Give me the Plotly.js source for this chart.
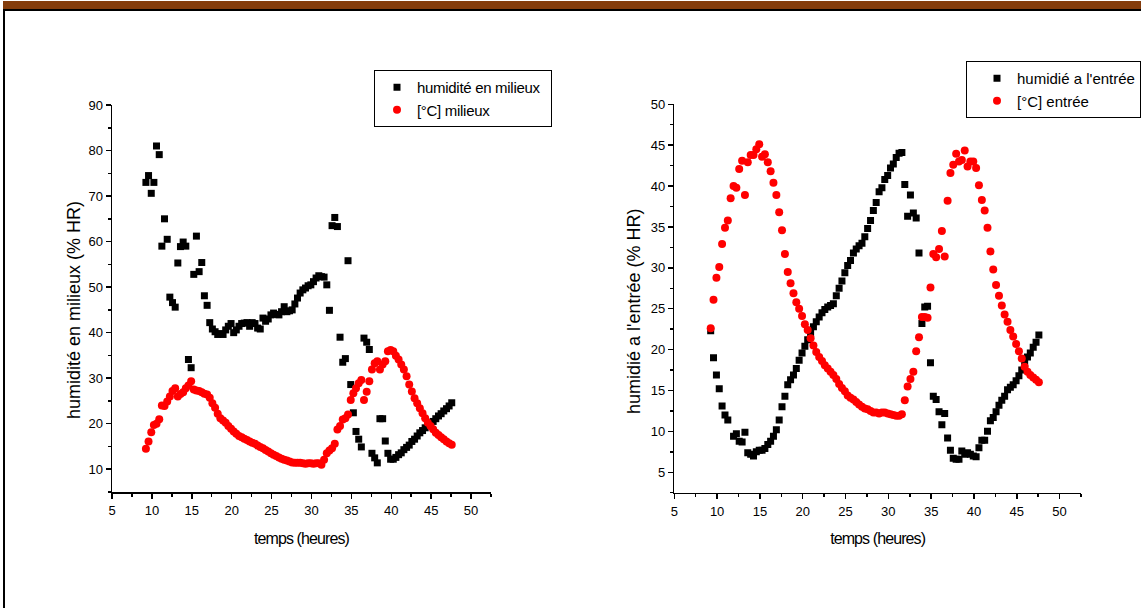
<!DOCTYPE html>
<html>
<head>
<meta charset="utf-8">
<script src="https://cdn.plot.ly/plotly-3.0.1.min.js"></script>
<style>
  html, body { margin: 0; padding: 0; background: #fff; }
  #page { position: relative; width: 1141px; height: 608px; overflow: hidden; background: #fff; }
  #chart { position: absolute; left: 0; top: 0; width: 1141px; height: 608px; }
  .band { position: absolute; left: 3px; top: 1px; width: 1138px; height: 8px; background: #843c0c; }
  .rule-top { position: absolute; left: 3px; top: 9px; width: 1138px; height: 2px; background: #000; }
  .rule-left { position: absolute; left: 3px; top: 9px; width: 2px; height: 599px; background: #000; }
  #chart .xtitle, #chart .x2title { letter-spacing: -0.9px; }
  #chart .legendtext { letter-spacing: -0.3px; }
  #chart .legend2 .legendtext { letter-spacing: -0.7px; }
</style>
</head>
<body>
<div id="page">
  <div id="chart"></div>
  <div class="band"></div>
  <div class="rule-top"></div>
  <div class="rule-left"></div>
</div>
<script>
// Time stamps (hours), one reading every 20 minutes
const temps = [
  9.25, 9.58, 9.92, 10.25, 10.58, 10.92, 11.25, 11.58, 11.92, 12.25,
  12.58, 12.92, 13.25, 13.58, 13.92, 14.25, 14.58, 14.92, 15.25, 15.58,
  15.92, 16.25, 16.58, 16.92, 17.25, 17.58, 17.92, 18.25, 18.58, 18.92,
  19.25, 19.58, 19.92, 20.25, 20.58, 20.92, 21.25, 21.58, 21.92, 22.25,
  22.58, 22.92, 23.25, 23.58, 23.92, 24.25, 24.58, 24.92, 25.25, 25.58,
  25.92, 26.25, 26.58, 26.92, 27.25, 27.58, 27.92, 28.25, 28.58, 28.92,
  29.25, 29.58, 29.92, 30.25, 30.58, 30.92, 31.25, 31.58, 31.92, 32.25,
  32.58, 32.92, 33.25, 33.58, 33.92, 34.25, 34.58, 34.92, 35.25, 35.58,
  35.92, 36.25, 36.58, 36.92, 37.25, 37.58, 37.92, 38.25, 38.58, 38.92,
  39.25, 39.58, 39.92, 40.25, 40.58, 40.92, 41.25, 41.58, 41.92, 42.25,
  42.58, 42.92, 43.25, 43.58, 43.92, 44.25, 44.58, 44.92, 45.25, 45.58,
  45.92, 46.25, 46.58, 46.92, 47.25, 47.58
];

// Humidité en milieux (% HR)
const humiditeMilieux = [
  73.0, 74.5, 70.6, 73.0, 81.0, 79.1, 59.0, 65.0, 60.5, 47.8,
  46.6, 45.6, 55.3, 58.9, 59.9, 59.0, 34.1, 32.3, 52.8, 61.2,
  53.4, 55.4, 48.1, 46.0, 42.2, 40.8, 40.2, 39.6, 39.8, 39.6,
  40.6, 41.4, 42.0, 40.0, 40.6, 41.4, 42.0, 42.1, 42.2, 41.4,
  42.2, 42.0, 41.0, 40.8, 43.2, 42.5, 43.0, 43.9, 44.3, 44.0,
  43.9, 44.6, 45.7, 44.6, 44.8, 45.0, 46.3, 47.6, 48.7, 49.4,
  49.8, 50.3, 50.5, 51.2, 52.0, 52.5, 52.3, 52.2, 50.5, 44.9,
  63.5, 65.3, 63.3, 39.0, 33.5, 34.3, 55.8, 28.6, 22.4, 18.3,
  16.6, 14.9, 38.8, 37.9, 36.3, 13.5, 12.5, 11.4, 21.1, 21.1,
  16.2, 13.5, 12.2, 12.2, 12.6, 13.2, 13.6, 14.3, 14.8, 15.3,
  16.1, 16.6, 17.3, 18.0, 18.5, 19.1, 19.6, 20.1, 20.5, 21.1,
  21.7, 22.2, 22.8, 23.3, 23.9, 24.6
];

// Température en milieux (°C)
const tempMilieux = [
  14.5, 16.1, 18.1, 19.7, 20.0, 21.0, 24.0, 23.9, 24.9, 26.0,
  27.2, 27.8, 26.0, 26.5, 26.9, 27.8, 28.4, 29.3, 27.5, 27.3,
  27.2, 26.9, 26.6, 26.4, 25.7, 24.5, 23.5, 22.2, 21.2, 20.7,
  20.2, 19.5, 18.9, 18.3, 17.8, 17.3, 17.0, 16.7, 16.4, 16.1,
  15.8, 15.6, 15.2, 14.9, 14.6, 14.2, 13.9, 13.5, 13.2, 12.9,
  12.6, 12.3, 12.1, 11.9, 11.7, 11.5, 11.4, 11.4, 11.4, 11.3,
  11.2, 11.3, 11.3, 11.2, 11.3, 11.3, 11.0, 12.1, 13.5, 14.1,
  14.6, 15.6, 18.7, 19.5, 20.9, 21.2, 22.0, 25.2, 26.7, 27.8,
  28.9, 29.6, 25.2, 27.0, 29.3, 31.9, 33.3, 33.7, 31.9, 33.0,
  33.7, 35.9, 36.2, 35.9, 34.9, 34.1, 33.0, 31.9, 30.4, 28.6,
  27.1, 25.6, 24.5, 23.4, 22.3, 21.2, 20.2, 19.5, 18.8, 18.0,
  17.5, 17.0, 16.6, 16.1, 15.7, 15.4
];

// Humidité à l'entrée (% HR) — null where no reading was logged
const humiditeEntree = [
  22.3, 19.0, 16.9, 15.2, 13.1, 12.0, 11.4, null, 9.4, 9.7,
  8.8, 8.7, 9.9, 7.4, 7.2, 7.0, 7.5, 7.7, 7.7, 7.9,
  8.4, 8.8, 9.4, 10.2, 11.4, 13.0, 14.3, 15.7, 16.3, 16.9,
  17.7, 18.7, 19.6, 20.4, 21.2, 22.0, 22.8, 23.4, 24.0, 24.5,
  24.9, 25.2, 25.4, 25.6, 26.6, 27.5, 28.4, 29.4, 30.3, 30.9,
  31.8, 32.3, 32.7, 33.0, 33.8, 34.8, 35.8, 37.0, 38.0, 39.3,
  39.8, 40.8, 41.3, 42.2, 42.7, 43.5, 44.0, 44.1, 40.2, 36.3,
  38.9, 36.7, 36.1, 31.8, 23.2, 25.2, 25.3, 18.4, 14.3, 13.9,
  12.4, 10.8, 12.2, 9.2, 7.7, 6.7, 6.6, 6.6, 7.6, 7.2,
  7.4, 7.2, 7.0, 6.9, 8.0, 8.9, 8.9, 10.0, 11.3, 11.7,
  12.4, 13.2, 13.8, 14.3, 15.1, 15.4, 15.7, 16.2, 16.8, 17.5,
  18.3, 19.1, 19.6, 20.3, 20.9, 21.8
];

// Température à l'entrée (°C)
const tempEntree = [
  22.6, 26.1, 28.8, 30.1, 32.9, 34.9, 35.8, 38.5, 40.0, 39.8,
  42.1, 43.1, 38.9, 42.9, 43.8, 43.8, 44.5, 45.1, 43.6, 43.9,
  42.9, 41.8, 40.4, 38.9, 36.8, 34.6, 31.7, 29.5, 28.1, 26.9,
  25.8, 25.0, 24.1, 23.1, 22.4, 21.4, 20.5, 19.7, 19.1, 18.6,
  18.1, 17.7, 17.3, 16.9, 16.4, 15.8, 15.3, 14.9, 14.4, 14.1,
  13.9, 13.6, 13.3, 13.0, 12.8, 12.7, 12.5, 12.3, 12.3, 12.2,
  12.3, 12.3, 12.2, 12.1, 12.0, 11.9, 11.9, 12.1, 13.8, 15.5,
  16.4, 17.3, 19.8, 21.5, 24.0, 24.0, 23.9, 27.6, 31.7, 31.3,
  32.3, 34.5, 31.4, 38.2, 41.6, 42.6, 43.95, 43.0, 43.2, 44.35,
  42.4, 43.0, 43.0, 42.2, 40.1, 38.3, 37.0, 34.9, 32.0, 29.8,
  27.9, 26.6, 25.4, 24.3, 23.4, 22.4, 21.6, 20.7, 19.8, 18.9,
  17.9, 17.3, 16.9, 16.6, 16.3, 16.0
];

const xTickLabels = ['5', '10', '15', '20', '25', '30', '35', '40', '45', '50'];
const xTickValues = [5, 10, 15, 20, 25, 30, 35, 40, 45, 50];

const W = 1141, H = 608;
const FONT = 'Liberation Sans, Arial, Helvetica, sans-serif';

const squareMarker = { symbol: 'square', size: 7, color: '#000' };
const circleMarker = { symbol: 'circle', size: 8, color: '#ff0000' };

const traces = [
  { x: temps, y: humiditeMilieux, type: 'scatter', mode: 'markers', name: 'humidité en milieux',
    marker: squareMarker, xaxis: 'x', yaxis: 'y', legend: 'legend' },
  { x: temps, y: tempMilieux, type: 'scatter', mode: 'markers', name: '[°C] milieux',
    marker: circleMarker, xaxis: 'x', yaxis: 'y', legend: 'legend' },
  { x: temps, y: humiditeEntree, type: 'scatter', mode: 'markers', name: "humidié a l'entrée",
    marker: squareMarker, xaxis: 'x2', yaxis: 'y2', legend: 'legend2' },
  { x: temps, y: tempEntree, type: 'scatter', mode: 'markers', name: '[°C] entrée',
    marker: circleMarker, xaxis: 'x2', yaxis: 'y2', legend: 'legend2' }
];

function axisStyle(extra) {
  return Object.assign({
    showline: true, linecolor: '#000', linewidth: 1.5,
    showgrid: false, zeroline: false, mirror: false,
    ticks: 'outside', ticklen: 5, tickwidth: 1.5, tickcolor: '#000',
    tickfont: { family: FONT, size: 13, color: '#000' },
    fixedrange: true
  }, extra);
}

const xCommon = {
  range: [5, 52.5], tickmode: 'array', tickvals: xTickValues, ticktext: xTickLabels,
  minor: { ticks: 'outside', ticklen: 3, tickwidth: 1.5, tickcolor: '#000', dtick: 2.5, tick0: 5 },
  ticklabelstandoff: 1,
  title: { text: 'temps (heures)', font: { family: FONT, size: 16, color: '#000' }, standoff: 15 }
};

const yTitleFont = { family: FONT, size: 18, color: '#000' };

const layout = {
  width: W, height: H,
  margin: { l: 0, r: 0, t: 0, b: 0, autoexpand: false },
  paper_bgcolor: '#fff', plot_bgcolor: '#fff',
  font: { family: FONT, color: '#000', size: 13 },
  showlegend: true,
  xaxis: axisStyle(Object.assign({}, xCommon, {
    domain: [112 / W, 491 / W], anchor: 'y'
  })),
  yaxis: axisStyle({
    domain: [1 - 492 / H, 1 - 105 / H], anchor: 'x',
    range: [5, 90], tick0: 10, dtick: 10,
    minor: { ticks: 'outside', ticklen: 3, tickwidth: 1.5, tickcolor: '#000', dtick: 5, tick0: 5 }
  }),
  xaxis2: axisStyle(Object.assign({}, xCommon, {
    domain: [674.3 / W, 1081 / W], anchor: 'y2'
  })),
  yaxis2: axisStyle({
    domain: [1 - 492.7 / H, 1 - 104.3 / H], anchor: 'x2',
    range: [2.5, 50], tick0: 5, dtick: 5,
    minor: { ticks: 'outside', ticklen: 3, tickwidth: 1.5, tickcolor: '#000', dtick: 2.5, tick0: 2.5 }
  }),
  // vertical axis captions
  annotations: [
    { text: 'humidité en milieux (% HR)', xref: 'paper', yref: 'paper',
      x: 74 / W, y: 1 - 310 / H, xanchor: 'center', yanchor: 'middle',
      textangle: -90, showarrow: false, font: yTitleFont },
    { text: "humidié a l'entrée (% HR)", xref: 'paper', yref: 'paper',
      x: 634 / W, y: 1 - 311 / H, xanchor: 'center', yanchor: 'middle',
      textangle: -90, showarrow: false, font: yTitleFont }
  ],
  legend: {
    x: 374 / W, y: 1 - 70 / H, xanchor: 'left', yanchor: 'top',
    bgcolor: '#fff', bordercolor: '#000', borderwidth: 1, indentation: 2,
    font: { family: FONT, size: 15, color: '#000' },
    tracegroupgap: 0, itemclick: false, itemdoubleclick: false
  },
  legend2: {
    x: 966 / W, y: 1 - 61 / H, xanchor: 'left', yanchor: 'top',
    bgcolor: '#fff', bordercolor: '#000', borderwidth: 1, indentation: 10,
    font: { family: FONT, size: 15, color: '#000' },
    tracegroupgap: 0, itemclick: false, itemdoubleclick: false
  }
};

Plotly.newPlot('chart', traces, layout, { staticPlot: true, displayModeBar: false });
</script>
</body>
</html>
